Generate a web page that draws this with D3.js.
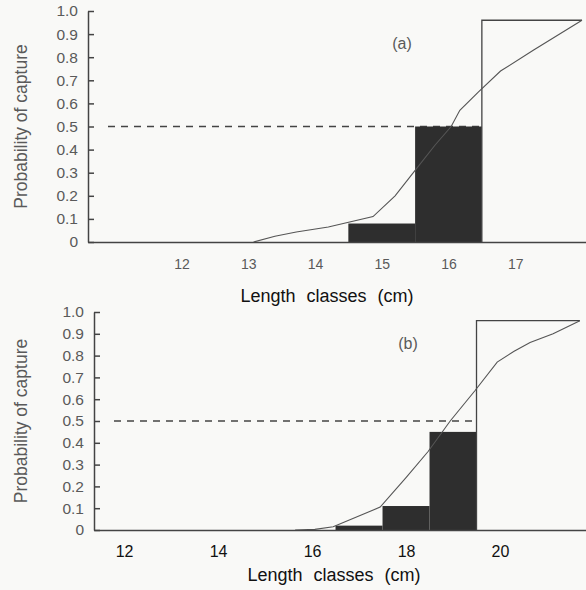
<!DOCTYPE html>
<html>
<head>
<meta charset="utf-8">
<script src="https://cdn.jsdelivr.net/npm/d3@7"></script>
<style>
  body { margin: 0; background: #f9f9f7; }
  svg { display: block; font-family: "Liberation Sans", Arial, sans-serif; }
</style>
</head>
<body>
<svg id="chart" width="586" height="590"></svg>
<script>
// y ticks shared by both panels
const yTicks = [0, 0.1, 0.2, 0.3, 0.4, 0.5, 0.6, 0.7, 0.8, 0.9, 1.0];

// panel (a)
const xTicksA = [12, 13, 14, 15, 16, 17];
const barClassesA = [15, 16];
const barValuesA = [0.08, 0.5];
const openBarA = [16.5, 18.0, 0.96];
const curveLenA = [13.08, 13.4, 13.72, 14.2, 14.87, 15.2, 15.5, 15.8, 16.04, 16.17, 16.45, 16.78, 17.27, 18.0];
const curveProbA = [0, 0.025, 0.043, 0.065, 0.11, 0.2, 0.31, 0.42, 0.5, 0.57, 0.65, 0.74, 0.83, 0.96];

// panel (b)
const xTicksB = [12, 14, 16, 18, 20];
const barClassesB = [17, 18, 19];
const barValuesB = [0.02, 0.11, 0.45];
const openBarB = [19.5, 21.7, 0.96];
const curveLenB = [15.64, 16.06, 16.45, 17.45, 18.0, 18.47, 18.94, 19.47, 19.94, 20.3, 20.64, 21.13, 21.7];
const curveProbB = [0, 0.003, 0.015, 0.105, 0.24, 0.36, 0.5, 0.64, 0.77, 0.82, 0.86, 0.9, 0.96];

const svg = d3.select("#chart");
const grey = "#5a5a5a";

function drawPanel(opt) {
  const x = d3.scaleLinear().domain(opt.xDomain).range([opt.left, 586]);
  const y = d3.scaleLinear().domain([0, 1]).range([opt.bottom, opt.top]);
  const g = svg.append("g");

  // 50% dashed reference
  g.append("line")
    .attr("x1", opt.left + 20)
    .attr("x2", x(opt.open[0]))
    .attr("y1", y(0.5))
    .attr("y2", y(0.5))
    .attr("stroke", "#444")
    .attr("stroke-width", 1.6)
    .attr("stroke-dasharray", "7,6");

  // filled bars
  g.selectAll("rect.bar")
    .data(opt.classes.map((c, i) => ({ c: c, v: opt.values[i] })))
    .enter()
    .append("rect")
    .attr("class", "bar")
    .attr("x", (d) => x(d.c - 0.5))
    .attr("width", (d) => x(d.c + 0.5) - x(d.c - 0.5))
    .attr("y", (d) => y(d.v))
    .attr("height", (d) => y(0) - y(d.v))
    .attr("fill", "#2e2e2e");

  // open bar: left and top edges only
  g.append("path")
    .attr("d", d3.line()([
      [x(opt.open[0]), y(0)],
      [x(opt.open[0]), y(opt.open[2])],
      [x(opt.open[1]), y(opt.open[2])]
    ]))
    .attr("fill", "none")
    .attr("stroke", "#444")
    .attr("stroke-width", 1.3);

  // curve
  const pts = opt.curveX.map((v, i) => [v, opt.curveY[i]]);
  g.append("path")
    .datum(pts)
    .attr("fill", "none")
    .attr("stroke", "#555")
    .attr("stroke-width", 1.1)
    .attr("d", d3.line().x((d) => x(d[0])).y((d) => y(d[1])));

  // y axis
  const yAxis = d3.axisLeft(y)
    .tickValues(yTicks)
    .tickSizeInner(-6)
    .tickSizeOuter(0)
    .tickPadding(10)
    .tickFormat((d) => (d === 0 ? "0" : d3.format(".1f")(d)));
  const ya = g.append("g")
    .attr("transform", `translate(${opt.left},0)`)
    .call(yAxis);
  ya.select(".domain").attr("stroke", "#444").attr("stroke-width", 1.5);
  ya.selectAll(".tick line").attr("stroke", "#444").attr("stroke-width", 1.5);
  ya.selectAll(".tick text")
    .attr("fill", grey)
    .attr("font-size", "15.5px")
    .attr("font-family", "Liberation Sans, Arial, sans-serif");

  // x axis
  const xAxis = d3.axisBottom(x)
    .tickValues(opt.xTicks)
    .tickSize(0)
    .tickPadding(opt.xPad)
    .tickFormat(d3.format("d"));
  const xa = g.append("g")
    .attr("transform", `translate(0,${opt.bottom})`)
    .call(xAxis);
  xa.select(".domain").attr("stroke", "#444").attr("stroke-width", 1.5);
  xa.selectAll(".tick text")
    .attr("fill", opt.xTickColor)
    .attr("font-size", opt.xTickSize)
    .attr("font-family", "Liberation Sans, Arial, sans-serif");

  // panel label
  g.append("text")
    .attr("x", opt.labelX)
    .attr("y", opt.labelY)
    .attr("text-anchor", "middle")
    .attr("fill", grey)
    .attr("font-size", "16px")
    .text(opt.label);

  // y title
  g.append("text")
    .attr("transform", `translate(27,${(opt.top + opt.bottom) / 2}) rotate(-90)`)
    .attr("text-anchor", "middle")
    .attr("fill", grey)
    .attr("font-size", "17.5px")
    .text("Probability of capture");

  // x title
  g.append("text")
    .attr("x", opt.titleX)
    .attr("y", opt.titleY)
    .attr("text-anchor", "middle")
    .attr("fill", "#111")
    .attr("font-size", "18px")
    .attr("word-spacing", "6px")
    .text("Length classes (cm)");
}

drawPanel({
  left: 88, top: 11, bottom: 242,
  xDomain: [10.6, 18.06],
  xTicks: xTicksA, xPad: 17, xTickColor: grey, xTickSize: "14px",
  classes: barClassesA, values: barValuesA, open: openBarA,
  curveX: curveLenA, curveY: curveProbA,
  label: "(a)", labelX: 402, labelY: 49,
  titleX: 327, titleY: 302
});

drawPanel({
  left: 94, top: 312, bottom: 530,
  xDomain: [11.36, 21.83],
  xTicks: xTicksB, xPad: 16, xTickColor: "#111", xTickSize: "16px",
  classes: barClassesB, values: barValuesB, open: openBarB,
  curveX: curveLenB, curveY: curveProbB,
  label: "(b)", labelX: 408, labelY: 349,
  titleX: 334, titleY: 581
});
</script>
</body>
</html>
